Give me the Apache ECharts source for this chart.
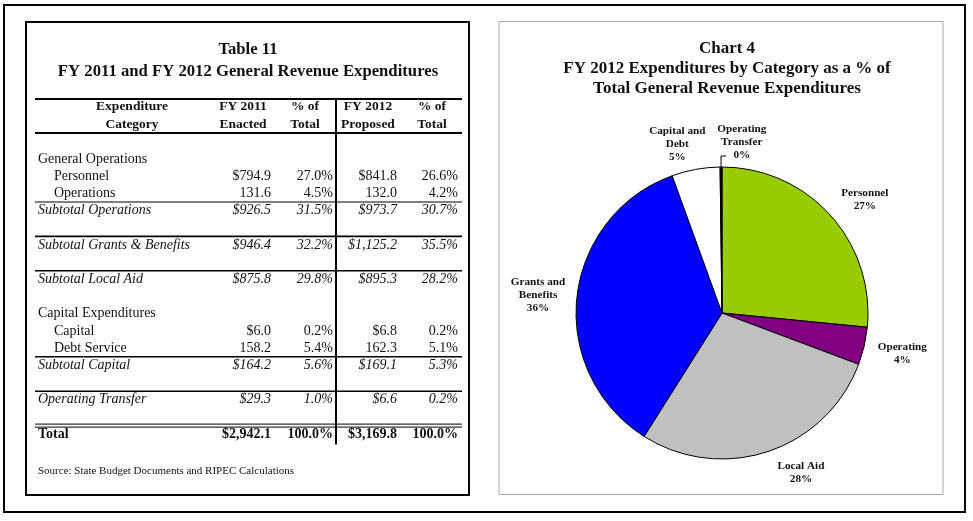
<!DOCTYPE html>
<html>
<head>
<meta charset="utf-8">
<script src="https://cdn.jsdelivr.net/npm/echarts@6/dist/echarts.min.js"></script>
<style>
  html, body { margin: 0; padding: 0; background: #fff; }
  #chart { width: 973px; height: 521px; }
</style>
</head>
<body>
<div id="chart"></div>
<script>
// table 11 data
const rowLabels = ['General Operations', 'Personnel', 'Operations', 'Subtotal Operations',
  'Subtotal Grants & Benefits', 'Subtotal Local Aid', 'Capital Expenditures', 'Capital',
  'Debt Service', 'Subtotal Capital', 'Operating Transfer', 'Total'];
const rowKinds = ['head', 'item$', 'item', 'sub', 'sub', 'sub', 'head', 'item$', 'item', 'sub', 'sub', 'total'];
const fy2011 = [null, 794.9, 131.6, 926.5, 946.4, 875.8, null, 6.0, 158.2, 164.2, 29.3, 2942.1];
const pct2011 = [null, 27.0, 4.5, 31.5, 32.2, 29.8, null, 0.2, 5.4, 5.6, 1.0, 100.0];
const fy2012 = [null, 841.8, 132.0, 973.7, 1125.2, 895.3, null, 6.8, 162.3, 169.1, 6.6, 3169.8];
const pct2012 = [null, 26.6, 4.2, 30.7, 35.5, 28.2, null, 0.2, 5.1, 5.3, 0.2, 100.0];
const headers = [['Expenditure', 'Category'], ['FY 2011', 'Enacted'], ['% of', 'Total'],
  ['FY 2012', 'Proposed'], ['% of', 'Total']];

// chart 4 data (FY 2012 proposed)
const pieNames = ['Personnel', 'Operating', 'Local Aid', 'Grants and\nBenefits', 'Capital and\nDebt', 'Operating\nTransfer'];
const pieValues = [841.8, 132.0, 895.3, 1125.2, 169.1, 6.6];
const pieColors = ['#99cc00', '#800080', '#c0c0c0', '#0000ff', '#ffffff', '#000000'];

// layout
const serif = '"Liberation Serif", "Times New Roman", serif';
const rowSlots = [0, 1, 2, 3, 5, 7, 9, 10, 11, 12, 14, 16];
const rowTop = 159, rowStep = 17.2;
const colRight = [271, 333, 397, 458];
const headCenter = [132, 243, 305, 368, 432];
const pieCenter = [722, 313], pieRadius = 146, labelDist = 182;
const labelOffset = [[8, 9], [3, -1], [21, -13], [-3, 2], [-12, 10], [21, 11]];

const rowY = s => rowTop + s * rowStep;

function fmtMoney(v, dollar) {
  let s = v.toFixed(1).replace(/\B(?=(\d{3})+(?!\d))/g, ',');
  return dollar ? '$' + s : s;
}

function text(x, y, str, font, align) {
  return {
    type: 'text', x: x, y: y,
    style: { text: str, font: font, fill: '#111', align: align || 'left', verticalAlign: 'middle' }
  };
}
function line(x1, y1, x2, y2, w) {
  return { type: 'line', shape: { x1: x1, y1: y1, x2: x2, y2: y2 }, style: { stroke: '#000', lineWidth: w } };
}

const g = [];
// frames
g.push({ type: 'rect', shape: { x: 4, y: 5, width: 961, height: 507 }, style: { fill: 'none', stroke: '#000', lineWidth: 2 } });
g.push({ type: 'rect', shape: { x: 26, y: 22, width: 443, height: 473 }, style: { fill: 'none', stroke: '#000', lineWidth: 2 } });
g.push({ type: 'rect', shape: { x: 499, y: 21.5, width: 444, height: 473 }, style: { fill: 'none', stroke: '#aaa', lineWidth: 1 } });

// table titles
g.push(text(248, 50, 'Table 11', 'bold 16.7px ' + serif, 'center'));
g.push(text(248, 72, 'FY 2011 and FY 2012 General Revenue Expenditures', 'bold 16.7px ' + serif, 'center'));

// header
headers.forEach((h, i) => {
  g.push(text(headCenter[i], 107, h[0], 'bold 13.5px ' + serif, 'center'));
  g.push(text(headCenter[i], 125, h[1], 'bold 13.5px ' + serif, 'center'));
});
g.push(line(35, 99, 462, 99, 2));
g.push(line(35, 133, 462, 133, 2));
g.push(line(336, 99, 336, rowY(16.6), 2));

// rule lines between groups
g.push(line(35, rowY(2.5), 462, rowY(2.5), 1));
[4.5, 6.5, 11.5, 13.5].forEach(s => g.push(line(35, rowY(s), 462, rowY(s), 1.6)));
g.push(line(35, rowY(15.5) - 1.5, 462, rowY(15.5) - 1.5, 1));
g.push(line(35, rowY(15.5) + 1.5, 462, rowY(15.5) + 1.5, 1));

// rows
rowLabels.forEach((lab, i) => {
  const y = rowY(rowSlots[i]);
  const kind = rowKinds[i];
  let font = '14px ' + serif;
  if (kind === 'sub') font = 'italic 14px ' + serif;
  if (kind === 'total') font = 'bold 14px ' + serif;
  const x = kind.indexOf('item') === 0 ? 54 : 38;
  g.push(text(x, y, lab, font, 'left'));
  if (fy2011[i] == null) return;
  const dollar = kind !== 'item';
  g.push(text(colRight[0], y, fmtMoney(fy2011[i], dollar), font, 'right'));
  g.push(text(colRight[1], y, pct2011[i].toFixed(1) + '%', font, 'right'));
  g.push(text(colRight[2], y, fmtMoney(fy2012[i], dollar), font, 'right'));
  g.push(text(colRight[3], y, pct2012[i].toFixed(1) + '%', font, 'right'));
});
g.push(text(38, 471, 'Source: State Budget Documents and RIPEC Calculations', '11px ' + serif, 'left'));

const pieTotal = pieValues.reduce((a, b) => a + b, 0);
function midAngle(i) {
  let before = 0;
  for (let k = 0; k < i; k++) before += pieValues[k];
  return (before + pieValues[i] / 2) / pieTotal * Math.PI * 2;
}

const chart = echarts.init(document.getElementById('chart'));
chart.setOption({
  backgroundColor: '#fff',
  animation: false,
  title: {
    text: 'Chart 4\nFY 2012 Expenditures by Category as a % of\nTotal General Revenue Expenditures',
    left: 722, top: 34, textAlign: 'center',
    textStyle: { fontFamily: serif, fontSize: 17, fontWeight: 'bold', color: '#111', lineHeight: 20 }
  },
  graphic: g,
  series: [{
    type: 'pie',
    center: pieCenter,
    radius: pieRadius,
    startAngle: 90,
    clockwise: true,
    percentPrecision: 0,
    avoidLabelOverlap: false,
    emphasis: { disabled: true },
    itemStyle: { borderColor: '#000', borderWidth: 1 },
    label: {
      show: true, position: 'outside',
      formatter: '{b}\n{d}%',
      fontFamily: serif, fontSize: 11.2, fontWeight: 'bold', color: '#111', lineHeight: 13
    },
    labelLine: { show: false, lineStyle: { color: '#000', width: 1 } },
    labelLayout: function (p) {
      const i = p.dataIndex;
      const a = midAngle(i);
      const dx = Math.sin(a), dy = -Math.cos(a);
      const x = pieCenter[0] + dx * labelDist + labelOffset[i][0];
      const y = pieCenter[1] + dy * labelDist + labelOffset[i][1];
      const out = { x: x, y: y, align: 'center', verticalAlign: 'middle' };
      if (i === pieNames.length - 1) {
        const ex = pieCenter[0] + dx * pieRadius, ey = pieCenter[1] + dy * pieRadius;
        out.labelLinePoints = [[ex, ey], [ex, y + 14], [ex + 5, y + 14]];
      }
      return out;
    },
    data: pieNames.map((n, i) => ({
      name: n, value: pieValues[i],
      itemStyle: { color: pieColors[i] },
      labelLine: i === pieNames.length - 1 ? { show: true } : undefined
    }))
  }]
});
</script>
</body>
</html>
